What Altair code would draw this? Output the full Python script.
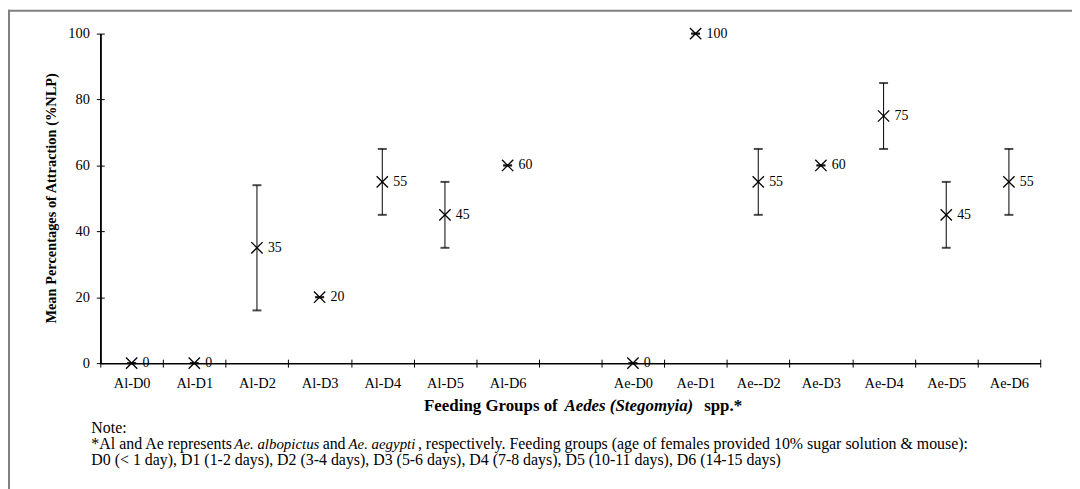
import altair as alt
import pandas as pd

# ---------------- data ----------------
groups = ["Al-D0", "Al-D1", "Al-D2", "Al-D3", "Al-D4", "Al-D5", "Al-D6", "",
          "Ae-D0", "Ae-D1", "Ae--D2", "Ae-D3", "Ae-D4", "Ae-D5", "Ae-D6"]
categories = [g for g in groups if g]
means = [0, 0, 35, 20, 55, 45, 60, 0, 100, 55, 60, 75, 45, 55]
lower = [0, 0, 16, 20, 45, 35, 60, 0, 100, 45, 60, 65, 35, 45]
upper = [0, 0, 54, 20, 65, 55, 60, 0, 100, 65, 60, 85, 55, 65]
value_labels = ["0", "0", "35", "20", "55", "45", "60",
                "0", "100", "55", "60", "75", "45", "55"]
y_ticks = [0, 20, 40, 60, 80, 100]

y_title = "Mean Percentages of Attraction (%NLP)"
x_title_parts = ["Feeding Groups of", "Aedes (Stegomyia)", "spp.*"]
note_1 = "Note:"
note_2_parts = ["*Al and Ae represents", "Ae. albopictus", "and", "Ae. aegypti",
                ", respectively. Feeding groups (age of females provided 10% sugar solution & mouse):"]
note_3 = ("D0 (< 1 day), D1 (1-2 days), D2 (3-4 days), D3 (5-6 days), "
          "D4 (7-8 days), D5 (10-11 days), D6 (14-15 days)")

df = pd.DataFrame({"group": categories, "mean": means, "lower": lower,
                   "upper": upper, "label": value_labels})

# ---------------- styling ----------------
W, H = 947, 332
SERIF = "Liberation Serif"
X_PATH = "M-1,-1L1,1M-1,1L1,-1"

xscale = alt.Scale(type="band", domain=groups, paddingInner=0, paddingOuter=0)
yscale = alt.Scale(domain=[0, 100], nice=False)

x_dom_axis = alt.Axis(orient="bottom", domain=True, domainColor="black", domainWidth=1,
                      ticks=False, labels=False, title=None, grid=False)
y_dom_axis = alt.Axis(orient="left", domain=True, domainColor="black", domainWidth=1,
                      ticks=False, labels=False, title=None, grid=False)

x_tick_axis = alt.Axis(orient="bottom", offset=-4, domain=False, ticks=True, tickSize=8,
                       tickColor="black", tickWidth=1, tickBand="extent",
                       labels=True, labelPadding=10, labelFont=SERIF, labelFontSize=14.5,
                       labelColor="black", labelAngle=0, labelOverlap=False,
                       title=None, grid=False)
y_tick_axis = alt.Axis(orient="left", offset=-4, values=y_ticks, domain=False, ticks=True,
                       tickSize=8, tickColor="black", tickWidth=1,
                       labels=True, labelPadding=7, labelFont=SERIF, labelFontSize=14.5,
                       labelColor="black", labelOverlap=False, title=None, grid=False)

base = alt.Chart(df)

errbars = base.mark_rule(color="black", strokeWidth=1).encode(
    x=alt.X("group:N", scale=xscale, axis=x_dom_axis),
    y=alt.Y("lower:Q", scale=yscale, axis=y_dom_axis),
    y2="upper:Q",
)
cap_lo = base.mark_tick(color="black", thickness=2, size=9, orient="horizontal").encode(
    x=alt.X("group:N", scale=xscale, axis=x_dom_axis),
    y=alt.Y("lower:Q", scale=yscale, axis=y_dom_axis),
)
cap_hi = base.mark_tick(color="black", thickness=2, size=9, orient="horizontal").encode(
    x=alt.X("group:N", scale=xscale, axis=x_dom_axis),
    y=alt.Y("upper:Q", scale=yscale, axis=y_dom_axis),
)
points = base.mark_point(shape=X_PATH, size=130, color="black", strokeWidth=1.3,
                         filled=False, opacity=1).encode(
    x=alt.X("group:N", scale=xscale, axis=x_dom_axis),
    y=alt.Y("mean:Q", scale=yscale, axis=y_dom_axis),
)
texts = base.mark_text(align="left", baseline="middle", dx=11, font=SERIF,
                       fontSize=14, color="black").encode(
    x=alt.X("group:N", scale=xscale, axis=x_dom_axis),
    y=alt.Y("mean:Q", scale=yscale, axis=y_dom_axis),
    text="label:N",
)
tick_layer = base.mark_point(opacity=0).encode(
    x=alt.X("group:N", scale=xscale, axis=x_tick_axis),
    y=alt.Y("mean:Q", scale=yscale, axis=y_tick_axis),
)

one = alt.Data(values=[{"k": 1}])

frame_left = alt.Chart(one).mark_rule(color="#808080", strokeWidth=2).encode(
    x=alt.value(-92), y=alt.value(-24), y2=alt.value(460))
frame_top = alt.Chart(one).mark_rule(color="#808080", strokeWidth=2).encode(
    x=alt.value(-93), x2=alt.value(980), y=alt.value(-23))


def txt(s, x, y, size, weight="normal", style="normal", align="left", angle=0):
    return alt.Chart(one).mark_text(
        text=s, font=SERIF, fontSize=size, fontWeight=weight, fontStyle=style,
        align=align, baseline="middle", angle=angle, color="black",
    ).encode(x=alt.value(x), y=alt.value(y))


annotations = [
    txt(y_title, -49, 166, 14.5, weight="bold", align="center", angle=270),
    txt(x_title_parts[0], 393.5, 375, 17, weight="bold", align="center"),
    txt(x_title_parts[1], 532.5, 375, 17, weight="bold", style="italic", align="center"),
    txt(x_title_parts[2], 627.5, 375, 17, weight="bold", align="center"),
    txt(note_1, -9, 397, 16),
    txt(note_2_parts[0], -9, 414, 16),
    txt(note_2_parts[1], 135, 414, 15, style="italic"),
    txt(note_2_parts[2], 224, 414, 16),
    txt(note_2_parts[3], 250, 414, 15, style="italic"),
    txt(note_2_parts[4], 320, 414, 16),
    txt(note_3, -9, 430, 16),
]

chart = alt.layer(
    errbars, cap_lo, cap_hi, points, texts, tick_layer,
    frame_left, frame_top, *annotations
).resolve_axis(x="independent", y="independent").properties(
    width=W, height=H,
    autosize=alt.AutoSizeParams(type="none"),
    padding={"left": 93, "top": 24, "right": 32, "bottom": 125},
    background="white",
).configure_view(stroke=None)

chart.save("out.html", embed_options={"renderer": "svg", "actions": False})
